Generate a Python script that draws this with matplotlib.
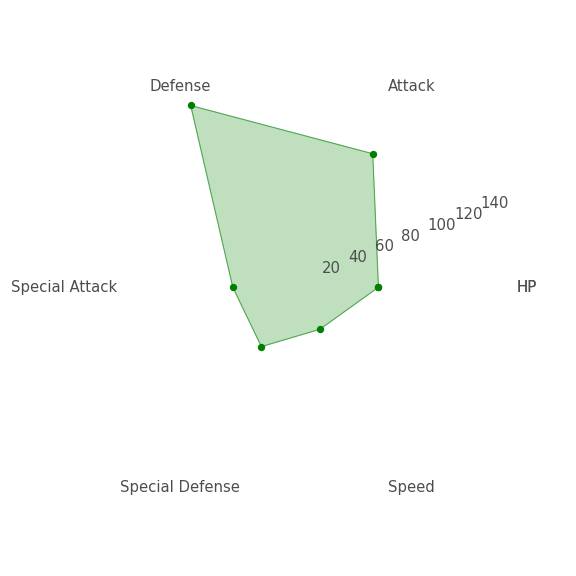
import numpy as np
import matplotlib
matplotlib.use("Agg")
import matplotlib.pyplot as plt

categories = ['HP', 'Attack', 'Defense', 'Special Attack', 'Special Defense', 'Speed']
values = [58, 108, 147, 44, 48, 34]

angles = np.linspace(0, 2 * np.pi, len(categories), endpoint=False).tolist()
angles_closed = angles + angles[:1]
values_closed = values + values[:1]

plt.rcParams['font.size'] = 11.2

fig = plt.figure(figsize=(6, 6), dpi=96)
ax = fig.add_axes([0.1438, 0.1318, 0.7389, 0.7389], polar=True)

ax.fill(angles_closed, values_closed, color='green', alpha=0.25, clip_on=False)
ax.plot(angles_closed, values_closed, color='green', linewidth=0.6, alpha=0.6, clip_on=False)
ax.plot(angles_closed, values_closed, 'o', color='green', markersize=4.5, clip_on=False)

# closing tick repeats HP on top of itself
ax.set_xticks(angles_closed)
ax.set_xticklabels(categories + categories[:1], color='#4d4d4d')
ax.tick_params(axis='y', colors='#4d4d4d')
ax.set_rlabel_position(22.5)
ax.set_ylim(0, 149)

ax.grid(False)
ax.spines['polar'].set_visible(False)

fig.savefig('out.png', dpi=96)
